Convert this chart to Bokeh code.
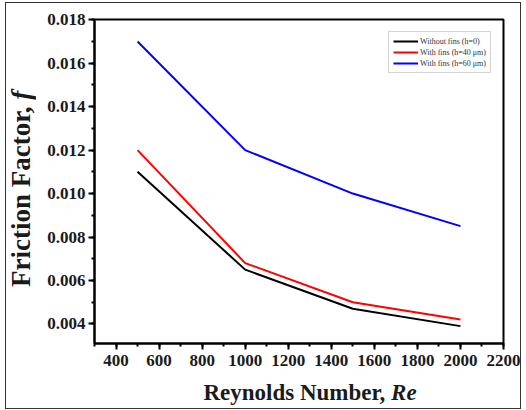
from bokeh.plotting import figure
from bokeh.models import SingleIntervalTicker, PrintfTickFormatter, Range1d, Legend, LegendItem, Div
from bokeh.layouts import row, column
from bokeh.embed import file_html
from bokeh.resources import INLINE

re_vals = [500, 1000, 1500, 2000]
f_no_fins = [0.0110, 0.0065, 0.0047, 0.0039]
f_h40 = [0.0120, 0.0068, 0.0050, 0.0042]
f_h60 = [0.0170, 0.0120, 0.0100, 0.0085]
series_names = ["Without fins (h=0)", "With fins (h=40 \u03bcm)", "With fins (h=60 \u03bcm)"]
series_colors = ["black", "red", "blue"]
x_title = "Reynolds Number, "
x_title_it = "Re"
y_title = "Friction Factor, "
y_title_it = "f"

FONT = "Liberation Serif"

p = figure(width=484, height=375, output_backend="svg", toolbar_location=None,
           x_range=Range1d(300, 2200), y_range=Range1d(0.0031, 0.01801),
           min_border_left=58, min_border_right=17, min_border_top=16, min_border_bottom=35,
           margin=0)
p.grid.visible = False
p.outline_line_color = "black"
p.outline_line_width = 2
p.outline_line_alpha = 1

renderers = []
for ys, c in zip([f_no_fins, f_h40, f_h60], series_colors):
    renderers.append(p.line(re_vals, ys, line_color=c, line_width=2))

legend = Legend(items=[LegendItem(label=n, renderers=[r]) for n, r in zip(series_names, renderers)],
                location="top_right")
legend.label_text_font = FONT
legend.label_text_font_size = "8px"
legend.label_text_color = "#333"
legend.glyph_width = 25
legend.glyph_height = 10
legend.label_height = 10
legend.spacing = 1
legend.padding = 4
legend.margin = 12
legend.label_standoff = 2
legend.border_line_color = "#aaaaaa"
legend.border_line_width = 1
p.add_layout(legend)

for ax in (p.xaxis[0], p.yaxis[0]):
    ax.axis_line_width = 2
    ax.major_tick_line_width = 2
    ax.minor_tick_line_width = 2
    ax.major_tick_out = 6
    ax.major_tick_in = 0
    ax.minor_tick_out = 3
    ax.minor_tick_in = 0
    ax.major_label_text_font = FONT
    ax.major_label_text_font_style = "bold"
    ax.major_label_text_font_size = "17px"
    ax.major_label_text_color = "#1a1a1a"

p.xaxis.ticker = SingleIntervalTicker(interval=200, num_minor_ticks=2)
p.yaxis.ticker = SingleIntervalTicker(interval=0.002, num_minor_ticks=2)
p.yaxis.formatter = PrintfTickFormatter(format="%.3f")
p.xaxis.major_label_standoff = 5
p.yaxis.major_label_standoff = 3

base_font = "font-family:'Liberation Serif'; font-weight:bold; color:#1a1a1a; box-sizing:border-box;"
ydiv = Div(
    text=(f'<div style="{base_font} font-size:27px; writing-mode:vertical-rl; transform:rotate(180deg); '
          f'text-align:center; width:30px; height:371px; line-height:30px; white-space:nowrap;">'
          f'{y_title}<i>{y_title_it}</i></div>'),
    width=30, height=375, margin=0)
xdiv = Div(
    text=(f'<div style="{base_font} font-size:23px; text-align:center; width:514px; padding-left:94px; '
          f'line-height:30px; white-space:nowrap;">{x_title}<i>{x_title_it}</i></div>'),
    width=514, height=30, margin=0)

layout = column(row(ydiv, p, spacing=0, margin=0), xdiv, spacing=0, margin=(3, 0, 0, 6),
                styles={"outline": "1px solid #333", "outline-offset": "0px"})

open("out.html", "w").write(file_html(layout, INLINE))
